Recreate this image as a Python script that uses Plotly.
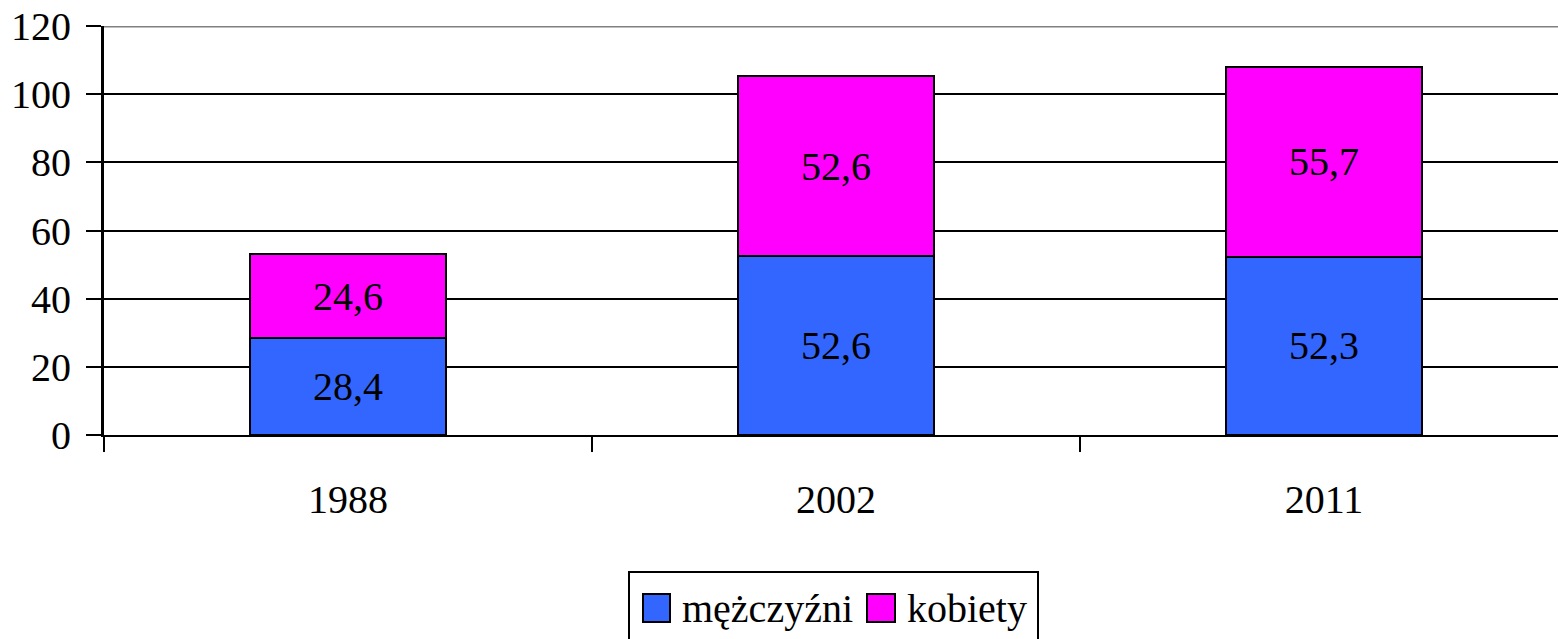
import plotly.graph_objects as go

years = ["1988", "2002", "2011"]
men = [28.4, 52.6, 52.3]
women = [24.6, 52.6, 55.7]
y_ticks = [0, 20, 40, 60, 80, 100, 120]
series_names = ["mężczyźni", "kobiety"]
colors = ["#3366FF", "#FF00FF"]

FONT = "Liberation Serif"
FS = 40

def fmt(v):
    return f"{v:.1f}".replace(".", ",")

fig = go.Figure()
for name, vals, col in zip(series_names, [men, women], colors):
    fig.add_trace(go.Bar(
        x=years, y=vals, name=name,
        marker=dict(color=col, line=dict(color="black", width=2)),
        text=[fmt(v) for v in vals],
        textposition="inside", insidetextanchor="middle",
        textfont=dict(family=FONT, size=FS, color="black"),
        showlegend=False,
    ))

W, H = 1558, 639
L, R, T, B = 104, 0, 26, 204
pw, ph = W - L - R, H - T - B

def px(x):
    return (x - L) / pw

def py(y):
    return (H - B - y) / ph

fig.update_layout(
    width=W, height=H,
    margin=dict(l=L, r=R, t=T, b=B),
    barmode="stack", bargap=0.598,
    plot_bgcolor="white", paper_bgcolor="white",
    font=dict(family=FONT, size=FS, color="black"),
    xaxis=dict(
        type="category", tickson="boundaries",
        range=[-0.5, 2.5 - 10 / 488],
        ticks="outside", ticklen=15, tickwidth=2, tickcolor="black",
        showline=True, linecolor="black", linewidth=2,
        showgrid=False, tickfont=dict(family=FONT, size=FS),
        ticklabelstandoff=28,
    ),
    yaxis=dict(
        range=[0, 120], tickvals=y_ticks,
        ticks="outside", ticklen=15, tickwidth=2, tickcolor="black",
        showline=True, linecolor="black", linewidth=3,
        showgrid=True, gridcolor="black", gridwidth=2,
        zeroline=False, tickfont=dict(family=FONT, size=FS),
        ticklabelstandoff=7,
    ),
)

# gray top line at 120
fig.add_shape(type="line", xref="paper", yref="y", x0=0, x1=1, y0=120, y1=120,
              line=dict(color="#808080", width=3), layer="above")

# manual legend
fig.add_shape(type="rect", xref="paper", yref="paper",
              x0=px(629), x1=px(1038), y0=py(572), y1=py(660),
              line=dict(color="black", width=2), fillcolor="white")
sq = [(643, 670), (867, 895)]
tx = [680, 905]
for (a, b), t, name, col in zip(sq, tx, series_names, colors):
    fig.add_shape(type="rect", xref="paper", yref="paper",
                  x0=px(a), x1=px(b), y0=py(594), y1=py(622),
                  line=dict(color="black", width=2), fillcolor=col)
    fig.add_annotation(xref="paper", yref="paper", x=px(t), y=py(608),
                       xanchor="left", yanchor="middle", text=name,
                       showarrow=False, font=dict(family=FONT, size=FS, color="black"))

fig.write_html("out.html", config={"displayModeBar": False},
               post_script="document.body.style.margin='0';document.body.style.overflow='hidden';")
